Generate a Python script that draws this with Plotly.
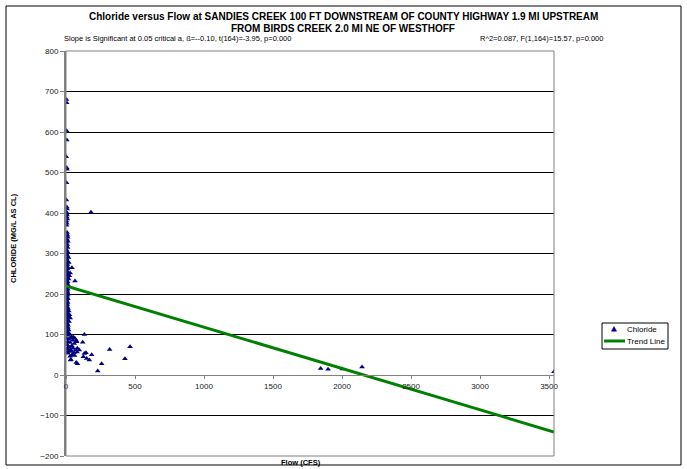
import plotly.graph_objects as go

# ---- data ----
flow = [3, 5, 4, 6, 2, 5, 7, 4, 3, 6, 8, 4, 2, 7, 5, 9, 3, 6, 4, 8,
        5, 10, 3, 12, 7, 14, 4, 9, 6, 11, 3, 8, 15, 5, 10, 18, 4, 7, 13, 20,
        6, 9, 3, 16, 11, 5, 8, 30, 14, 4, 24, 10, 6, 19, 3, 65, 12, 8, 5, 15,
        7, 10, 4, 13, 6, 9, 3, 17, 11, 5, 8, 14, 4, 7, 12, 6, 10, 3, 9, 15,
        5, 20, 8, 12, 25, 4, 18, 30, 7, 11, 22, 5, 9, 15, 3, 13, 6, 19, 8, 10,
        25, 14, 40, 55, 35, 65, 20, 48, 75, 12, 30, 60, 8, 42, 18, 28, 52, 10, 70, 22,
        38, 6, 58, 15, 45, 30, 80, 62, 35, 2, 43, 6, 3, 5, 2, 7, 4, 9, 2, 5,
        133, 121, 77, 82, 34, 34, 74, 83, 96, 133, 145, 126, 150, 169, 186, 230, 258, 316, 427, 464,
        181, 1845, 1899, 2002, 2145, 3536]
chloride = [680, 672, 603, 580, 539, 512, 508, 475, 432, 415, 410, 402, 398, 395, 390, 385, 380, 375, 370, 352,
            348, 345, 342, 340, 335, 330, 328, 322, 318, 315, 310, 305, 302, 298, 295, 290, 287, 283, 280, 278,
            275, 272, 268, 265, 262, 258, 255, 252, 250, 247, 245, 242, 240, 237, 235, 232, 230, 227, 224, 222,
            220, 217, 214, 212, 209, 206, 203, 200, 197, 194, 191, 188, 185, 182, 179, 176, 173, 170, 167, 164,
            161, 158, 155, 152, 149, 146, 143, 141, 138, 135, 132, 129, 126, 123, 120, 117, 114, 111, 108, 105,
            102, 98, 95, 93, 92, 90, 88, 86, 85, 82, 80, 78, 75, 72, 70, 68, 66, 64, 62, 60,
            58, 56, 55, 54, 50, 46, 57, 48, 38, 250, 265, 210, 190, 170, 150, 140, 130, 118, 100, 90,
            100, 81, 82, 66, 62, 37, 31, 28, 62, 53, 55, 45, 41, 37, 50, 10, 28, 63, 40, 70,
            402, 16, 14, 15, 20, 8]

trend_intercept = 220.0
trend_slope = -0.102
flow_max = 3536
trend_x = [0, flow_max]
trend_y = [trend_intercept + trend_slope * v for v in trend_x]

y_ticks = [-200, -100, 0, 100, 200, 300, 400, 500, 600, 700, 800]
x_ticks = [0, 500, 1000, 1500, 2000, 2500, 3000, 3500]
series_names = ["Chloride", "Trend Line"]

title1 = "Chloride versus Flow at SANDIES CREEK 100 FT DOWNSTREAM OF COUNTY HIGHWAY 1.9 MI UPSTREAM"
title2 = "FROM BIRDS CREEK 2.0 MI NE OF WESTHOFF"
sub_left = "Slope is Significant at 0.05 critical a, ß=--0.10, t(164)=-3.95, p=0.000"
sub_right = "R^2=0.087, F(1,164)=15.57, p=0.000"

MARK_COLOR = "#000080"
TREND_COLOR = "#008000"

# ---- layout helpers (page pixel -> paper) ----
L, T, W, H = 66, 51, 488, 405
def px(x): return (x - L) / W
def py(y): return (T + H - y) / H

FONT = "Arial, Liberation Sans, sans-serif"

fig = go.Figure()
fig.add_trace(go.Scatter(x=flow, y=chloride, mode="markers", name=series_names[0],
                         marker=dict(symbol="triangle-up", size=5, color=MARK_COLOR)))
fig.add_trace(go.Scatter(x=trend_x, y=trend_y, mode="lines", name=series_names[1],
                         line=dict(color=TREND_COLOR, width=3)))

# manual legend pieces (page pixel geometry)
tri_cx, tri_cy = 614, 329
tri_path = "M {},{} L {},{} L {},{} Z".format(
    px(tri_cx - 2.6), py(tri_cy + 2.2), px(tri_cx + 2.6), py(tri_cy + 2.2), px(tri_cx), py(tri_cy - 2.6))

fig.update_layout(
    width=687, height=469,
    margin=dict(l=L, r=687 - L - W, t=T, b=469 - T - H, autoexpand=False),
    paper_bgcolor="white", plot_bgcolor="white",
    font=dict(family=FONT, size=8, color="#000000"),
    showlegend=False,
    xaxis=dict(range=[0, flow_max], tickvals=x_ticks, showgrid=False, zeroline=False,
               anchor="free", position=0.2, showline=True, linecolor="#808080", linewidth=1,
               ticks="outside", ticklen=3, tickcolor="#808080",
               tickfont=dict(size=8, family=FONT, color="#222222")),
    yaxis=dict(range=[-200, 800], tickvals=y_ticks, showgrid=True, gridcolor="#000000",
               gridwidth=1, zeroline=False, showline=True, linecolor="#808080", linewidth=2,
               ticks="outside", ticklen=4, tickcolor="#808080",
               tickfont=dict(size=8, family=FONT, color="#222222")),
    shapes=[
        dict(type="rect", xref="paper", yref="paper", x0=0, x1=1, y0=0, y1=1,
             line=dict(color="#808080", width=1), layer="above"),
        dict(type="rect", xref="paper", yref="paper", x0=px(6), x1=px(681), y0=py(465), y1=py(6),
             line=dict(color="#000000", width=1)),
        # legend box
        dict(type="rect", xref="paper", yref="paper", x0=px(602), x1=px(668), y0=py(349), y1=py(323),
             line=dict(color="#000000", width=1), fillcolor="white"),
        dict(type="path", xref="paper", yref="paper", path=tri_path,
             fillcolor=MARK_COLOR, line=dict(color=MARK_COLOR, width=0.5)),
        dict(type="line", xref="paper", yref="paper", x0=px(604), x1=px(625), y0=py(341), y1=py(341),
             line=dict(color=TREND_COLOR, width=3)),
    ],
    annotations=[
        dict(text="<b>" + title1 + "</b>", x=px(343), y=py(16), xref="paper", yref="paper",
             xanchor="center", yanchor="middle", showarrow=False, font=dict(size=10)),
        dict(text="<b>" + title2 + "</b>", x=px(343), y=py(28), xref="paper", yref="paper",
             xanchor="center", yanchor="middle", showarrow=False, font=dict(size=10)),
        dict(text=sub_left, x=px(62), y=py(38), xref="paper", yref="paper",
             xanchor="left", yanchor="middle", showarrow=False, font=dict(size=7.5)),
        dict(text=sub_right, x=px(478), y=py(38), xref="paper", yref="paper",
             xanchor="left", yanchor="middle", showarrow=False, font=dict(size=7.5)),
        dict(text="<b>CHLORIDE (MG/L AS CL)</b>", x=px(14), y=py(238), xref="paper", yref="paper",
             xanchor="center", yanchor="middle", textangle=-90, showarrow=False, font=dict(size=7.5)),
        dict(text="<b>Flow (CFS)</b>", x=px(301), y=py(462), xref="paper", yref="paper",
             xanchor="center", yanchor="middle", showarrow=False, font=dict(size=7.5)),
        dict(text=series_names[0], x=px(625), y=py(329), xref="paper", yref="paper",
             xanchor="left", yanchor="middle", showarrow=False, font=dict(size=8)),
        dict(text=series_names[1], x=px(625), y=py(341), xref="paper", yref="paper",
             xanchor="left", yanchor="middle", showarrow=False, font=dict(size=8)),
    ],
)

fig.write_html("out.html", config={"displayModeBar": False},
               post_script="document.body.style.margin='0';document.body.style.overflow='hidden';")
